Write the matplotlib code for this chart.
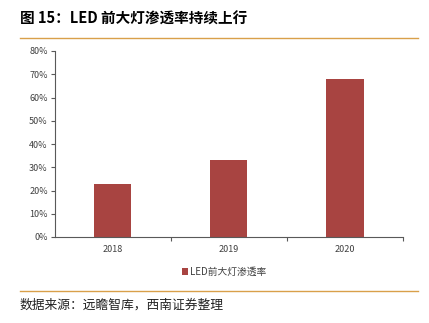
import matplotlib.pyplot as plt
from matplotlib.lines import Line2D
from matplotlib.ticker import FuncFormatter, FixedLocator

plt.rcParams['font.family'] = ['Noto Sans CJK SC', 'DejaVu Sans']

years = ['2018', '2019', '2020']
penetration = [0.23, 0.33, 0.68]
series_name = 'LED前大灯渗透率'
title = '图 15：LED 前大灯渗透率持续上行'
source = '数据来源：远瞻智库，西南证券整理'

bar_color = '#A84441'
line_color = '#D9A04A'
W, H = 429, 323

fig = plt.figure(figsize=(W / 100, H / 100), dpi=100)
ax = fig.add_axes([54.7 / W, 1 - 237 / H, (403 - 54.7) / W, (237 - 51) / H])

x = range(len(years))
ax.bar(x, penetration, width=0.32, color=bar_color, label=series_name)

ax.set_xlim(-0.5, len(years) - 0.5)
ax.set_ylim(0, 0.8)
ax.set_yticks([i / 10 for i in range(9)])
ax.yaxis.set_major_formatter(FuncFormatter(lambda v, p: '%d%%' % round(v * 100)))
ax.set_xticks(list(x))
ax.set_xticklabels(years)
ax.xaxis.set_minor_locator(FixedLocator([i + 0.5 for i in x]))

for s in ['top', 'right']:
    ax.spines[s].set_visible(False)
for s in ['left', 'bottom']:
    ax.spines[s].set_color('#595959')
    ax.spines[s].set_linewidth(0.8)

ax.tick_params(axis='y', length=3, width=0.8, color='#595959', labelsize=6.5, labelcolor='#404040', pad=2)
ax.tick_params(axis='x', which='major', length=0, labelsize=6.5, labelcolor='#404040', pad=6)
ax.tick_params(axis='x', which='minor', length=3, width=0.8, color='#595959')

ax.legend(loc='upper left', bbox_to_anchor=(178 / W, 1 - 263 / H), bbox_transform=fig.transFigure,
          frameon=False, fontsize=7, handlelength=0.6, handleheight=0.6, handletextpad=0.2,
          borderaxespad=0, labelcolor='#404040')

fig.text(20 / W, 1 - 19 / H, title, fontsize=10.5, fontweight='bold', va='center', ha='left')
fig.add_artist(Line2D([20 / W, 418 / W], [1 - 38 / H, 1 - 38 / H], color=line_color, lw=1))
fig.add_artist(Line2D([20 / W, 418 / W], [1 - 291 / H, 1 - 291 / H], color=line_color, lw=1))
fig.text(20 / W, 1 - 305 / H, source, fontsize=9.2, style='italic', va='center', ha='left', color='#222222')

fig.savefig('out.png', dpi=100)
